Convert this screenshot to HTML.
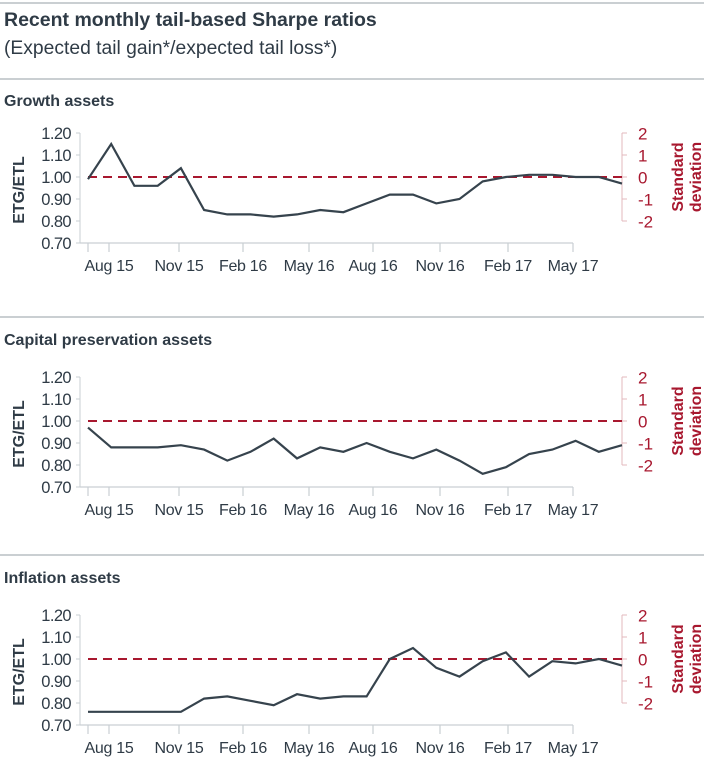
<!DOCTYPE html>
<html><head><meta charset="utf-8"><style>
html,body{margin:0;padding:0;background:#fff;width:704px;height:765px;overflow:hidden}
svg{display:block;font-family:"Liberation Sans",Arial,sans-serif}
</style></head><body>
<svg id="s" width="704" height="765" viewBox="0 0 704 765" xmlns="http://www.w3.org/2000/svg">
<line x1="0" y1="3" x2="704" y2="3" stroke="#aab2b8" stroke-width="1.2"/>
<text x="4" y="26" font-size="19.5" font-weight="bold" fill="#2f3b46">Recent monthly tail-based Sharpe ratios</text>
<text x="4" y="54" font-size="19.3" fill="#2f3b46">(Expected tail gain*/expected tail loss*)</text>
<line x1="0" y1="79" x2="704" y2="79" stroke="#aab2b8" stroke-width="1.2"/>
<line x1="0" y1="317" x2="704" y2="317" stroke="#aab2b8" stroke-width="1.2"/>
<line x1="0" y1="555" x2="704" y2="555" stroke="#aab2b8" stroke-width="1.2"/>
</svg>
<script>
const s=document.getElementById('s');
const NS='http://www.w3.org/2000/svg';
function el(t,a,txt){const e=document.createElementNS(NS,t);for(const k in a)e.setAttribute(k,a[k]);if(txt!==undefined)e.textContent=txt;s.appendChild(e);return e;}
const panels=[
 {title:'Growth assets',ty:106,one:177,d:[0.99,1.15,0.96,0.96,1.04,0.85,0.83,0.83,0.82,0.83,0.85,0.84,0.88,0.92,0.92,0.88,0.90,0.98,1.00,1.01,1.01,1.00,1.00,0.97]},
 {title:'Capital preservation assets',ty:345,one:421,d:[0.97,0.88,0.88,0.88,0.89,0.87,0.82,0.86,0.92,0.83,0.88,0.86,0.90,0.86,0.83,0.87,0.82,0.76,0.79,0.85,0.87,0.91,0.86,0.89]},
 {title:'Inflation assets',ty:583,one:659,d:[0.76,0.76,0.76,0.76,0.76,0.82,0.83,0.81,0.79,0.84,0.82,0.83,0.83,1.00,1.05,0.96,0.92,0.99,1.03,0.92,0.99,0.98,1.00,0.97]}
];
const months=[['Aug 15',109],['Nov 15',179],['Feb 16',243],['May 16',309],['Aug 16',373],['Nov 16',440],['Feb 17',508],['May 17',573]];
const dark='#2f3b46', red='#a8182f', grey='#c9cfd3';
panels.forEach(p=>{
 const base=p.one+66, top=p.one-44;
 el('text',{x:4,y:p.ty,'font-size':16,'font-weight':'bold',fill:dark},p.title);
 el('line',{x1:80,y1:top,x2:80,y2:base,stroke:grey,'stroke-width':1});
 const labs=['1.20','1.10','1.00','0.90','0.80','0.70'];
 labs.forEach((l,i)=>{const y=top+i*22;
  el('line',{x1:76,y1:y,x2:80,y2:y,stroke:grey});
  el('text',{x:71,y:y+6,'font-size':16.5,fill:dark,'text-anchor':'end','letter-spacing':'-0.6'},l);});
 el('text',{x:0,y:0,'font-size':16,'font-weight':'bold',fill:dark,'text-anchor':'middle',transform:`translate(24 ${p.one+13}) rotate(-90)`},'ETG/ETL');
 el('line',{x1:80,y1:base,x2:573,y2:base,stroke:grey,'stroke-width':1.2});
 [88].concat(months.map(m=>m[1])).forEach(x=>el('line',{x1:x,y1:base,x2:x,y2:base+9,stroke:grey,'stroke-width':1.2}));
 months.forEach(m=>el('text',{x:m[1],y:base+28,'font-size':16,fill:dark,'text-anchor':'middle','letter-spacing':'-0.3'},m[0]));
 const rt=p.one-44;
 el('line',{x1:622,y1:rt,x2:622,y2:rt+88,stroke:'#e3b9bd','stroke-width':1});
 ['2','1','0','-1','-2'].forEach((l,i)=>{const y=rt+i*22;
  el('line',{x1:622,y1:y,x2:627,y2:y,stroke:'#e3b9bd'});
  el('text',{x:638,y:y+6.5,'font-size':17,fill:red},l);});
 el('text',{x:0,y:0,'font-size':16,'font-weight':'bold',fill:red,'text-anchor':'middle',transform:`translate(683 ${p.one}) rotate(-90)`},'Standard');
 el('text',{x:0,y:0,'font-size':16,'font-weight':'bold',fill:red,'text-anchor':'middle',transform:`translate(701 ${p.one}) rotate(-90)`},'deviation');
 el('line',{x1:88,y1:p.one,x2:622,y2:p.one,stroke:red,'stroke-width':2,'stroke-dasharray':'9 6'});
 const pts=p.d.map((v,i)=>`${(88+i*(534/23)).toFixed(1)},${(p.one-(v-1)*220).toFixed(1)}`).join(' ');
 el('polyline',{points:pts,fill:'none',stroke:'#36434d','stroke-width':2.2,'stroke-linejoin':'miter'});
});
</script>
</body></html>
